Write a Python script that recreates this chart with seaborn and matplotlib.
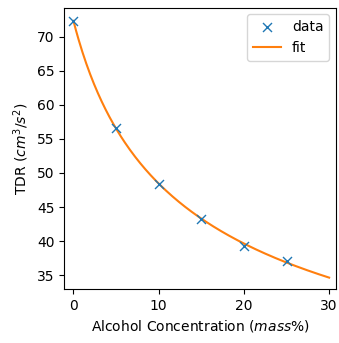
import numpy as np
import matplotlib
matplotlib.use("Agg")
import matplotlib.pyplot as plt
import seaborn as sns

conc = [0, 5, 10, 15, 20, 25]
tdr = [72.35, 56.6, 48.45, 43.25, 39.35, 37.1]

# power-law fit y = a * (x + b) ** (-p), least squares over the data
xd = np.array(conc, float)
yd = np.array(tdr, float)
best = None
for b in np.linspace(1.0, 15.0, 281):
    for p in np.linspace(0.1, 1.0, 361):
        f = (xd + b) ** (-p)
        a = np.dot(f, yd) / np.dot(f, f)
        err = np.sum((a * f - yd) ** 2)
        if best is None or err < best[0]:
            best = (err, a, b, p)
_, a, b, p = best
xfit = np.linspace(0, 30, 200)
yfit = a * (xfit + b) ** (-p)

fig = plt.figure(figsize=(3.39, 3.43), dpi=100)
ax = fig.add_axes([0.189, 0.157, 0.802, 0.821])
sns.scatterplot(x=conc, y=tdr, marker="x", s=42, color="C0", linewidth=1.0,
                label="data", ax=ax, zorder=3)
sns.lineplot(x=xfit, y=yfit, color="C1", linewidth=1.5, label="fit", ax=ax)
ax.set_xlim(-1.1, 30.8)
ax.set_ylim(32.94, 74.3)
ax.set_xticks([0, 10, 20, 30])
ax.set_yticks([35, 40, 45, 50, 55, 60, 65, 70])
ax.set_xlabel("Alcohol Concentration ($mass$%)")
ax.set_ylabel("TDR ($cm^3/s^2$)")
ax.legend(loc="upper right")
fig.savefig("out.png", dpi=100)
